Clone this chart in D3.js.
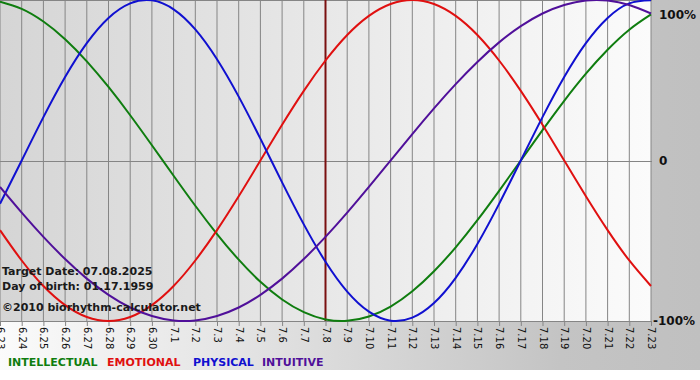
<!DOCTYPE html>
<html>
<head>
<meta charset="utf-8">
<script src="https://cdn.jsdelivr.net/npm/d3@7"></script>
<style>
  body { margin: 0; background: #fff; }
  svg { display: block; font-family: Verdana, "DejaVu Sans", sans-serif; }
</style>
</head>
<body>
<div id="chart"></div>
<script>
// days shown on the x axis (6.23 .. 7.23)
const days = ["6.23","6.24","6.25","6.26","6.27","6.28","6.29","6.30",
  "7.1","7.2","7.3","7.4","7.5","7.6","7.7","7.8","7.9","7.10","7.11","7.12",
  "7.13","7.14","7.15","7.16","7.17","7.18","7.19","7.20","7.21","7.22","7.23"];

// cycle values per day, -1 .. 1
const intellectual = [0.990,0.945,0.866,0.756,0.618,0.458,0.282,0.095,-0.095,-0.282,-0.458,-0.618,-0.756,-0.866,-0.945,-0.990,
  -0.999,-0.972,-0.910,-0.815,-0.690,-0.541,-0.372,-0.189,0.000,0.189,0.372,0.541,0.690,0.815,0.910];
const emotional = [-0.434,-0.623,-0.782,-0.901,-0.975,-1.000,-0.975,-0.901,-0.782,-0.623,-0.434,-0.223,0.000,0.223,0.434,0.623,
  0.782,0.901,0.975,1.000,0.975,0.901,0.782,0.623,0.434,0.223,0.000,-0.223,-0.434,-0.623,-0.782];
const physical = [-0.270,0.000,0.270,0.520,0.731,0.888,0.979,0.998,0.942,0.817,0.631,0.398,0.136,-0.136,-0.398,-0.631,
  -0.817,-0.942,-0.998,-0.979,-0.888,-0.731,-0.520,-0.270,0.000,0.270,0.520,0.731,0.888,0.979,0.998];
const intuitive = [-0.165,-0.325,-0.476,-0.614,-0.736,-0.837,-0.916,-0.969,-0.997,-0.997,-0.969,-0.916,-0.837,-0.736,-0.614,-0.476,
  -0.325,-0.165,0.000,0.165,0.325,0.476,0.614,0.736,0.837,0.916,0.969,0.997,0.997,0.969,0.916];

const yTicks = [1, 0, -1];
const yLabels = ["100%", "0", "-100%"];
const targetDay = "7.8";
const infoLines = ["Target Date: 07.08.2025", "Day of birth: 01.17.1959", "\u00a92010 biorhythm-calculator.net"];

const series = [
  {name: "INTELLECTUAL", values: intellectual, color: "#0f7d0f"},
  {name: "EMOTIONAL", values: emotional, color: "#e01010"},
  {name: "PHYSICAL", values: physical, color: "#1010d0"},
  {name: "INTUITIVE", values: intuitive, color: "#50109a"}
];

const width = 700, height = 380;
const plotW = 651, plotH = 321;

const svg = d3.select("#chart").append("svg")
  .attr("width", width).attr("height", height);

const defs = svg.append("defs");
const outerGrad = defs.append("linearGradient").attr("id", "outer");
outerGrad.append("stop").attr("offset", "0%").attr("stop-color", "#fbfbfb");
outerGrad.append("stop").attr("offset", "80%").attr("stop-color", "#c4c4c4");
outerGrad.append("stop").attr("offset", "100%").attr("stop-color", "#c0c0c0");
const plotGrad = defs.append("linearGradient").attr("id", "plotbg");
plotGrad.append("stop").attr("offset", "0%").attr("stop-color", "#d5d5d5");
plotGrad.append("stop").attr("offset", "100%").attr("stop-color", "#fbfbfb");

svg.append("rect").attr("width", width).attr("height", 370).attr("fill", "url(#outer)");
svg.append("rect").attr("width", plotW).attr("height", plotH).attr("fill", "url(#plotbg)");

const x = d3.scalePoint().domain(days).range([0, plotW]);
const y = d3.scaleLinear().domain([-1, 1]).range([plotH, 0]);

// vertical day grid
svg.append("g").selectAll("line")
  .data(days)
  .join("line")
  .attr("x1", d => x(d)).attr("x2", d => x(d))
  .attr("y1", 0).attr("y2", plotH)
  .attr("stroke", "#858585").attr("stroke-width", 1);

// horizontal grid
svg.append("g").selectAll("line")
  .data(yTicks)
  .join("line")
  .attr("x1", 0).attr("x2", plotW + 1)
  .attr("y1", d => Math.round(y(d)) + 0.5).attr("y2", d => Math.round(y(d)) + 0.5)
  .attr("stroke", "#858585");

// x axis
const xAxis = svg.append("g")
  .attr("transform", `translate(0,${plotH})`)
  .call(d3.axisBottom(x).tickSize(5).tickSizeOuter(0));
xAxis.select(".domain").remove();
xAxis.selectAll("line").attr("stroke", "#858585");
xAxis.selectAll("text")
  .attr("y", 0).attr("x", 6).attr("dy", "0.35em")
  .attr("transform", "rotate(90)")
  .style("text-anchor", "start")
  .attr("fill", "#111")
  .attr("font-size", 10)
  .attr("font-family", "Verdana, 'DejaVu Sans', sans-serif");

// y labels
svg.append("g").selectAll("text")
  .data(yTicks)
  .join("text")
  .attr("x", (d, i) => i === 2 ? 653 : 659)
  .attr("y", d => d === 1 ? 15 : y(d))
  .attr("dy", "0.35em")
  .attr("font-size", 12).attr("font-weight", "bold").attr("fill", "#111")
  .text((d, i) => yLabels[i]);

// target line
svg.append("line")
  .attr("x1", x(targetDay)).attr("x2", x(targetDay))
  .attr("y1", 0).attr("y2", plotH)
  .attr("stroke", "#7a1010").attr("stroke-width", 2);

// curves
const line = d3.line()
  .x((d, i) => x(days[i]))
  .y(d => y(d))
  .curve(d3.curveNatural);

svg.append("g").selectAll("path")
  .data(series)
  .join("path")
  .attr("d", d => line(d.values))
  .attr("fill", "none")
  .attr("stroke", d => d.color)
  .attr("stroke-width", 2);

// info text
svg.append("g").selectAll("text")
  .data(infoLines)
  .join("text")
  .attr("x", 2)
  .attr("y", (d, i) => [275, 290, 311][i])
  .attr("font-size", 11).attr("font-weight", "bold").attr("fill", "#1a1a1a")
  .text(d => d);

// legend
const legendX = [8, 107, 193, 262];
svg.append("g").selectAll("text")
  .data(series)
  .join("text")
  .attr("x", (d, i) => legendX[i])
  .attr("y", 366)
  .attr("font-size", 11).attr("font-weight", "bold")
  .attr("fill", d => d.color)
  .text(d => d.name);
</script>
</body>
</html>
